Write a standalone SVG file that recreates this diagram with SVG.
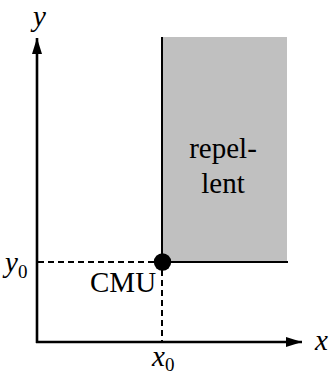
<svg xmlns="http://www.w3.org/2000/svg" width="331" height="374" viewBox="0 0 331 374">
<defs>
<marker id="arr" viewBox="0 0 16 10" refX="16" refY="5" markerWidth="16" markerHeight="10" markerUnits="userSpaceOnUse" orient="auto">
<path d="M0,0 L16,5 L0,10 Z" fill="#000"/>
</marker>
</defs>
<g id="region">
<rect x="162" y="37" width="125" height="225" fill="#c0c0c0"/>
<path d="M162,37 V262 H288" stroke="#000" stroke-width="2" fill="none"/>
<text x="223" y="158" text-anchor="middle" font-size="29" font-family="Liberation Serif" fill="#000">repel-</text>
<text x="223" y="193" text-anchor="middle" font-size="29" font-family="Liberation Serif" fill="#000">lent</text>
</g>
<g id="connectors" stroke="#000" fill="none">
<g stroke-width="2.6" marker-end="url(#arr)">
<line x1="37" y1="343" x2="37" y2="38"/>
<line x1="36" y1="342" x2="302" y2="342"/>
</g>
<g stroke-width="2" stroke-dasharray="6,4">
<line x1="38" y1="262" x2="156" y2="262"/>
<line x1="162" y1="270" x2="162" y2="341"/>
</g>
</g>
<g id="cmu">
<circle cx="162.5" cy="262" r="8.7" fill="#000"/>
<text x="90" y="292" font-size="29" font-family="Liberation Serif" fill="#000">CMU</text>
</g>
<g id="labels">
<text x="33" y="26" font-size="29" font-style="italic" font-family="Liberation Serif" fill="#000">y</text>
<text x="315" y="350" font-size="29" font-style="italic" font-family="Liberation Serif" fill="#000">x</text>
<text x="5" y="272" font-size="29" font-style="italic" font-family="Liberation Serif" fill="#000">y<tspan font-size="19" font-style="normal" dy="6">0</tspan></text>
<text x="152" y="366" font-size="29" font-style="italic" font-family="Liberation Serif" fill="#000">x<tspan font-size="19" font-style="normal" dy="5">0</tspan></text>
</g>
</svg>
